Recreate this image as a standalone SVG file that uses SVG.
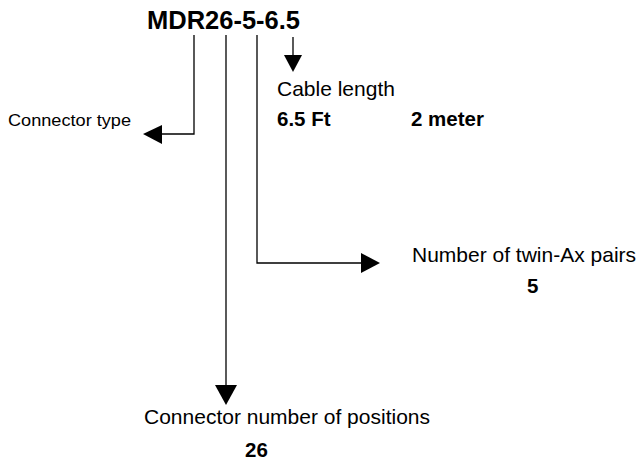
<svg xmlns="http://www.w3.org/2000/svg" width="643" height="463" viewBox="0 0 643 463">
<style>
text{font-family:"Liberation Sans",Arial,sans-serif;fill:#000}
.t{font-size:21px}
.b{font-weight:bold;font-size:20.5px}
.ln{stroke:#000;stroke-width:1.3;fill:none}
.ah{fill:#000}
</style>
<rect width="643" height="463" fill="#fff"/>
<g id="title"><text x="147" y="29" style="font-size:25.5px;font-weight:bold">MDR26-5-6.5</text></g>
<g id="connectors">
<polyline class="ln" points="194,35 194,134 160,134"/>
<polygon class="ah" points="143,134 162,125 162,144"/>
<line class="ln" x1="293" y1="37" x2="293" y2="56"/>
<polygon class="ah" points="293,72 284,55 302,55"/>
<polyline class="ln" points="257,35 257,263 363,263"/>
<polygon class="ah" points="380,263 361,253 361,273"/>
<line class="ln" x1="226" y1="35" x2="226" y2="387"/>
<polygon class="ah" points="226,405 215,385 237,385"/>
</g>
<g id="connector-type"><text x="8" y="126" style="font-size:16.5px" textLength="123" lengthAdjust="spacingAndGlyphs">Connector type</text></g>
<g id="cable-length">
<text class="t" x="277" y="96">Cable length</text>
<text class="b" x="277" y="126">6.5 Ft</text>
<text class="b" x="411" y="126">2 meter</text>
</g>
<g id="twin-ax">
<text class="t" x="412" y="262">Number of twin-Ax pairs</text>
<text class="b" x="527" y="293">5</text>
</g>
<g id="positions">
<text class="t" x="144" y="424">Connector number of positions</text>
<text class="b" x="245" y="457">26</text>
</g>
</svg>
